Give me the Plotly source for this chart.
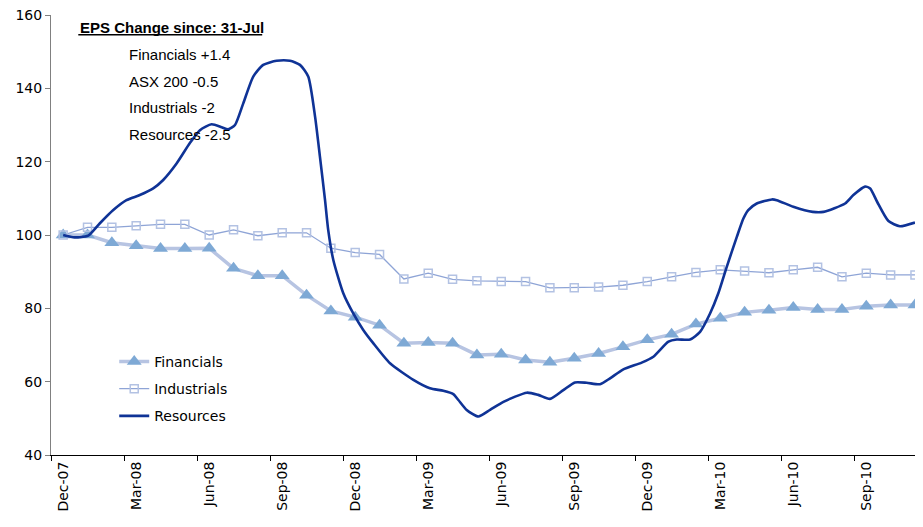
import plotly.graph_objects as go

# ---- data ----
months = list(range(36))  # Dec-07 .. Nov-10 (monthly)
tick_labels = ["Dec-07", "Mar-08", "Jun-08", "Sep-08", "Dec-08", "Mar-09",
               "Jun-09", "Sep-09", "Dec-09", "Mar-10", "Jun-10", "Sep-10"]
tick_pos = [0, 3, 6, 9, 12, 15, 18, 21, 24, 27, 30, 33]

financials = [100.0, 100.0, 97.9, 97.1, 96.3, 96.3, 96.4, 90.9, 88.9, 88.9,
              83.6, 79.3, 77.6, 75.4, 70.5, 70.7, 70.5, 67.3, 67.5, 65.9,
              65.3, 66.4, 67.7, 69.5, 71.4, 72.9, 75.7, 77.3, 78.9, 79.5,
              80.2, 79.7, 79.7, 80.6, 80.9, 80.9]

industrials = [100.0, 102.1, 102.1, 102.5, 102.9, 102.9, 100.0, 101.4, 99.8, 100.6,
               100.6, 96.4, 95.2, 94.7, 88.0, 89.6, 87.9, 87.5, 87.3, 87.3,
               85.6, 85.6, 85.8, 86.3, 87.3, 88.6, 89.8, 90.5, 90.2, 89.7,
               90.5, 91.2, 88.6, 89.6, 89.1, 89.1]

# Resources: higher-frequency series (time in months since Dec-07)
res_t = [0.00, 0.40, 0.69, 1.03, 1.51, 2.06, 2.60, 3.15, 3.70, 4.11,
         4.66, 5.20, 5.62, 6.10, 6.51, 6.78, 7.06, 7.40, 7.81, 8.22,
         8.77, 9.32, 9.73, 10.07, 10.35, 10.55, 10.76, 10.89, 11.10, 11.51,
         11.92, 12.33, 12.74, 13.43, 14.39, 15.07, 15.62, 16.03, 16.24, 16.58,
         17.06, 17.54, 18.09, 19.05, 19.52, 20.00, 20.55, 21.03, 21.51, 22.06,
         22.47, 23.00, 23.77, 24.25, 24.87, 25.21, 25.76, 26.17, 26.58, 26.92,
         27.27, 27.68, 27.95, 28.15, 28.50, 29.12, 29.32, 30.00, 30.80, 31.24,
         32.13, 32.47, 32.95, 33.16, 33.45, 33.91, 34.38, 35.00]
res_v = [100.0, 99.4, 99.4, 99.8, 103.2, 106.8, 109.5, 110.9, 112.7, 115.0,
         119.5, 125.0, 128.6, 130.2, 129.4, 128.8, 130.0, 135.9, 143.2, 146.4,
         147.5, 147.5, 146.4, 143.2, 132.3, 121.4, 109.5, 101.4, 93.2, 84.1,
         78.6, 74.1, 70.5, 65.0, 60.5, 58.2, 57.5, 56.6, 55.0, 52.3,
         50.5, 52.3, 54.5, 57.0, 56.4, 55.3, 57.7, 59.8, 59.7, 59.3,
         60.9, 63.3, 65.2, 66.8, 70.9, 71.5, 71.5, 73.6, 78.6, 84.1,
         91.4, 99.5, 104.5, 106.8, 108.6, 109.7, 109.5, 107.7, 106.3, 106.3,
         108.6, 110.9, 113.2, 112.7, 109.0, 103.8, 102.4, 103.4]

eps_title = "EPS Change since: 31-Jul"
eps_lines = ["Financials +1.4", "ASX 200 -0.5", "Industrials -2", "Resources -2.5"]

# ---- figure ----
fig = go.Figure()
fig.add_trace(go.Scatter(
    x=months, y=financials, name="Financials", mode="lines+markers",
    line=dict(color="#B7C4E2", width=3.5),
    marker=dict(symbol="triangle-up", size=13, color="#7EA9D5"),
    legendgroup="f"))
fig.add_trace(go.Scatter(
    x=months, y=industrials, name="Industrials", mode="lines+markers",
    line=dict(color="#8EA4D6", width=1.3),
    marker=dict(symbol="square-open", size=8, color="#B3C2E3", line=dict(width=1.5)),
    legendgroup="i"))
fig.add_trace(go.Scatter(
    x=res_t, y=res_v, name="Resources", mode="lines",
    line=dict(color="#0F3396", width=2.6, shape="spline", smoothing=0.6),
    legendgroup="r"))

tick_font = dict(family="DejaVu Sans, Verdana, sans-serif", size=14, color="#000000")

# page body has an 8px default margin, so the figure is sized to fill the rest of the window
fig.update_layout(
    width=915, height=519,
    margin=dict(l=43, r=0, t=7, b=72),
    paper_bgcolor="white", plot_bgcolor="white",
    showlegend=True,
    legend=dict(x=0.0725, y=0.248, xanchor="left", yanchor="top",
                font=dict(family="DejaVu Sans, Verdana, sans-serif", size=14, color="#000000"),
                bgcolor="rgba(0,0,0,0)", tracegroupgap=6, traceorder="grouped"),
    xaxis=dict(range=[-0.5, 35.33], tickmode="array", tickvals=tick_pos, ticktext=tick_labels,
               tickangle=-90, ticks="", showgrid=False, zeroline=False, automargin=False,
               ticklabeloverflow="allow",
               showline=True, linecolor="#000000", linewidth=1,
               tickfont=tick_font,
               minor=dict(tickmode="linear", tick0=-0.5, dtick=3, ticks="outside",
                          ticklen=5, tickcolor="#000000", tickwidth=1, showgrid=False)),
    yaxis=dict(range=[40, 160], dtick=20, tick0=40, ticks="outside", ticklen=5,
               tickcolor="#808080", showgrid=False, zeroline=False, automargin=False,
               ticklabeloverflow="allow",
               showline=True, linecolor="#808080", linewidth=1,
               tickfont=tick_font),
)

ann_font = dict(family="Liberation Sans, Arial, sans-serif", size=15, color="#000000")
fig.add_annotation(xref="paper", yref="paper", x=0.0313, y=0.972, xanchor="left", yanchor="middle",
                   text="<b>" + eps_title + "</b>", showarrow=False, font=ann_font)
ys = [0.911, 0.85, 0.789, 0.729]
for t, yy in zip(eps_lines, ys):
    fig.add_annotation(xref="paper", yref="paper", x=0.0874, y=yy, xanchor="left", yanchor="middle",
                       text=t, showarrow=False, font=ann_font)
fig.add_shape(type="line", xref="paper", yref="paper", x0=0.0313, x1=0.2422, y0=0.955, y1=0.955,
              line=dict(color="#000000", width=1.5))

fig.write_html("out.html")
